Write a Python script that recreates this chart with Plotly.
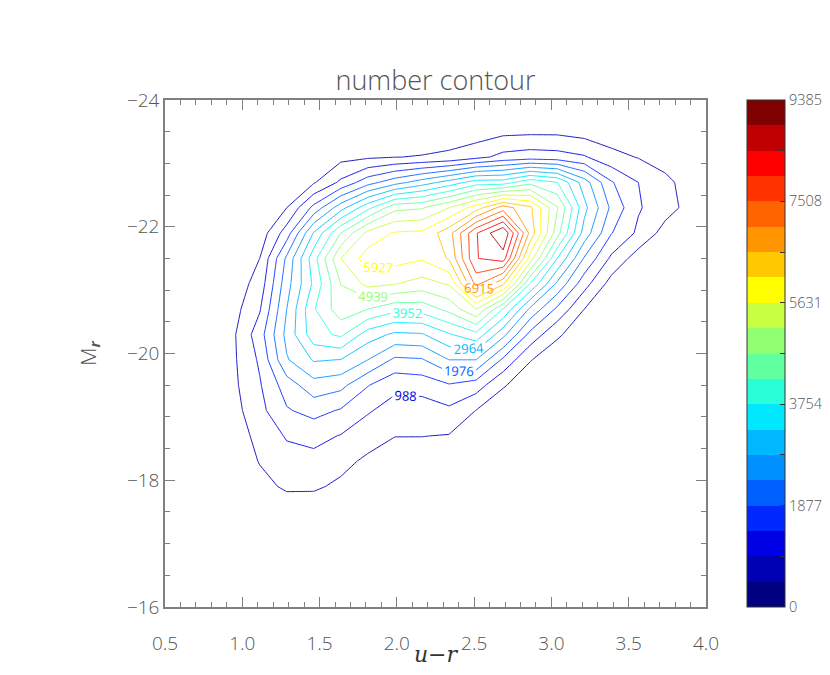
import math
import plotly.graph_objects as go

# bin centres
ur_centres = [0.5875, 0.7625, 0.9375, 1.1125, 1.2875, 1.4625, 1.6375, 1.8125, 1.9875, 2.1625,
              2.3375, 2.5125, 2.6875, 2.8625, 3.0375, 3.2125, 3.3875, 3.5625, 3.7375, 3.9125]
mr_centres = [-23.9, -23.5, -23.1, -22.7, -22.3, -21.9, -21.5, -21.1, -20.7, -20.3,
              -19.9, -19.5, -19.1, -18.7, -18.3, -17.9, -17.5, -17.1, -16.7, -16.3]

# galaxy counts per bin (rows follow mr_centres, columns follow ur_centres)
counts = [
    [0, 0, 0, 0, 0, 0, 0, 25, 49, 74, 99, 124, 148, 173, 173, 148, 99, 49, 25, 0],
    [0, 0, 0, 0, 25, 49, 99, 148, 173, 198, 222, 222, 371, 395, 395, 296, 222, 148, 74, 25],
    [0, 0, 0, 25, 99, 222, 346, 420, 484, 519, 593, 840, 1136, 1235, 1186, 1037, 642, 469, 272, 99],
    [0, 0, 0, 99, 247, 445, 1087, 1778, 2272, 2717, 3162, 3705, 3705, 4298, 3960, 2717, 1531, 988, 622, 247],
    [0, 0, 49, 173, 494, 1630, 2766, 3804, 4792, 4891, 5434, 6175, 7163, 6521, 4989, 3112, 1877, 1037, 692, 296],
    [0, 0, 99, 198, 1235, 3013, 4446, 5582, 5977, 6027, 6718, 8349, 9385, 6768, 4644, 2766, 1507, 889, 296, 148],
    [0, 0, 148, 494, 2075, 3754, 5434, 6175, 6126, 5977, 6471, 8373, 8645, 5681, 3458, 1927, 889, 247, 74, 25],
    [0, 0, 198, 692, 2272, 3557, 4950, 5582, 5459, 5236, 5483, 7558, 6521, 3930, 2371, 1186, 296, 49, 0, 0],
    [0, 0, 296, 939, 2470, 3903, 4742, 4446, 4100, 4150, 4594, 5434, 3930, 2371, 1383, 494, 148, 0, 0, 0],
    [0, 0, 395, 1260, 2618, 3754, 4051, 3211, 2865, 2915, 3409, 3804, 2618, 1334, 568, 198, 0, 0, 0, 0],
    [0, 0, 395, 1062, 2421, 3013, 2950, 2470, 1877, 1927, 2470, 2470, 1383, 519, 198, 0, 0, 0, 0, 0],
    [0, 0, 371, 939, 1729, 2272, 2124, 1507, 1112, 1186, 1433, 1235, 543, 198, 0, 0, 0, 0, 0, 0],
    [0, 0, 296, 840, 1433, 1655, 1433, 1037, 790, 741, 889, 484, 148, 0, 0, 0, 0, 0, 0, 0],
    [0, 0, 222, 642, 1037, 1136, 963, 716, 504, 504, 469, 148, 0, 0, 0, 0, 0, 0, 0, 0],
    [0, 0, 148, 519, 790, 840, 642, 395, 247, 222, 198, 49, 0, 0, 0, 0, 0, 0, 0, 0],
    [0, 0, 74, 346, 568, 568, 395, 198, 99, 74, 49, 0, 0, 0, 0, 0, 0, 0, 0, 0],
    [0, 0, 0, 99, 198, 173, 99, 49, 0, 0, 0, 0, 0, 0, 0, 0, 0, 0, 0, 0],
    [0] * 20,
    [0] * 20,
    [0] * 20,
]

count_max = 9385
n_levels = 19                 # contour spacing = max / 19
labelled_levels = [2, 4, 6, 8, 10, 12, 14]
cbar_tick_step = 938.5
band_colours = ["#000080", "#0000B4", "#0000E6", "#0028FF", "#0060FF", "#0090FF", "#00B8FF",
                "#00E8FF", "#28FFD8", "#60FFA0", "#90FF70", "#C8FF40", "#FFFF00", "#FFC800",
                "#FF9600", "#FF6400", "#FF3200", "#FF0000", "#C00000", "#800000"]

nb = len(band_colours)
scale = []
for b, c in enumerate(band_colours):
    scale.append([b / nb, c])
    scale.append([(b + 1) / nb, c])

step = count_max / n_levels
FONT = "Open Sans"
GREY = "#555555"
AXC = "#808080"

# page body has an 8 px margin: lay the figure out in page coordinates minus 8
W, H = 814, 659
L, T = 157, 92
R = W - 698
B = H - 599
plot_w = W - L - R

fig = go.Figure()
for k in range(1, n_levels):
    level = k * step
    colour = band_colours[min(nb - 1, int(math.floor(level / (count_max / nb))))]
    fig.add_trace(go.Contour(
        x=ur_centres, y=mr_centres, z=counts, autocontour=False,
        colorscale=[[0, colour], [1, colour]], showscale=False, hoverinfo="skip",
        line=dict(width=0.9, smoothing=0),
        contours=dict(start=level, end=level, size=step, coloring="lines",
                      showlabels=k in labelled_levels, labelformat=".0f",
                      labelfont=dict(family=FONT, size=13, color=colour))))

# colour bar
fig.add_trace(go.Scatter(
    x=[None, None], y=[None, None], mode="markers", showlegend=False, hoverinfo="skip",
    marker=dict(color=[0, count_max], colorscale=scale, cmin=0, cmax=count_max, showscale=True,
                colorbar=dict(thickness=38, len=1, lenmode="fraction", y=0.5, yanchor="middle",
                              x=(739 - L) / plot_w, xanchor="left", xpad=0, ypad=0,
                              outlinewidth=1, outlinecolor="#333333",
                              tickmode="linear", tick0=0, dtick=cbar_tick_step, ticklabelstep=2,
                              tickformat=".0f",
                              ticks="inside", ticklen=5, tickcolor="#333333",
                              tickfont=dict(family=FONT, size=14.5, color=GREY, weight=300)))))

axis_common = dict(showgrid=False, zeroline=False, showline=True, linecolor=AXC, linewidth=1.5,
                   ticks="inside", ticklen=10, tickcolor=AXC, mirror="ticks",
                   tickfont=dict(family=FONT, size=19, color=GREY, weight=300), automargin=False)

fig.update_xaxes(range=[0.5, 4.0], dtick=0.5, tick0=0.5, tickformat=".1f",
                 minor=dict(dtick=0.1, ticks="inside", ticklen=5, tickcolor=AXC),
                 ticklabelstandoff=18,
                 title=dict(text="<i>u</i>\u2212<i>r</i>", standoff=7,
                            font=dict(family="DejaVu Serif", size=22, color="#333333")),
                 **axis_common)
fig.update_yaxes(range=[-16, -24], dtick=2, tick0=-24,
                 minor=dict(dtick=0.5, ticks="inside", ticklen=5, tickcolor=AXC),
                 ticklabelstandoff=0,
                 title=dict(text="M<sub><i><b>r</b></i></sub>", standoff=25,
                            font=dict(family=FONT, size=21, color=GREY, weight=300)),
                 **axis_common)

fig.update_layout(
    width=W, height=H,
    margin=dict(l=L, r=R, t=T, b=B, autoexpand=False),
    paper_bgcolor="white", plot_bgcolor="white",
    title=dict(text="number contour", x=0.5, xref="paper", y=1 - 73 / H, yref="container",
               yanchor="middle", xanchor="center",
               font=dict(family=FONT, size=27, color=GREY, weight=300)),
    showlegend=False,
)

fig.write_html("out.html", config={"responsive": False})
